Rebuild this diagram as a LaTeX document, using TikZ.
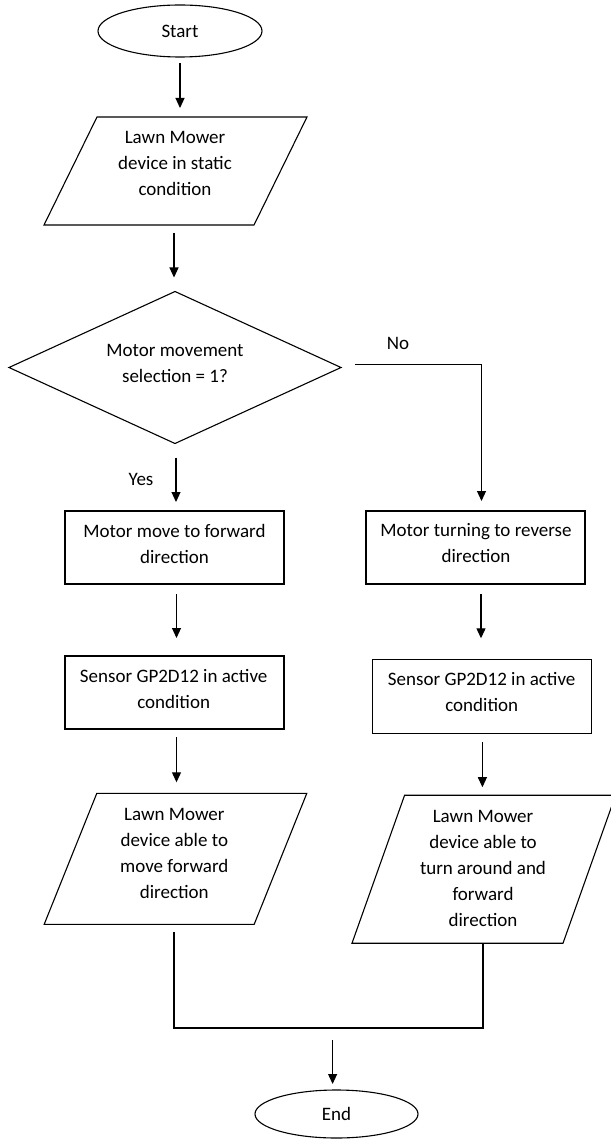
\documentclass[tikz,border=0pt]{standalone}
\usepackage{fontspec}
\setmainfont{Carlito}
\usetikzlibrary{shapes.geometric,arrows.meta,calc}
\begin{document}
\begin{tikzpicture}[x=1pt,y=-1pt,
 shp/.style={draw=black, line width=1.1pt, inner sep=0pt, outer sep=0pt},
 term/.style={shp, ellipse, minimum width=164pt, minimum height=52pt, font=\fontsize{19}{26}\selectfont},
 proc/.style={shp, rectangle, minimum width=219pt, minimum height=73pt},
 dec/.style={shp, diamond, minimum width=332pt, minimum height=152pt},
 iobox/.style={inner sep=0pt, outer sep=0pt, minimum width=210pt},
 txt/.style={font=\fontsize{19}{26}\selectfont, align=center, inner sep=0pt},
 lbl/.style={font=\fontsize{19}{26}\selectfont, inner sep=0pt},
 con/.style={draw=black, line width=1.1pt},
 arr/.style={con, -{Triangle[length=10pt,width=9pt]}}]
\useasboundingbox (0,0) rectangle (610,1139);

% terminals
\node[term] (start) at (180,31) {Start};
\node[term, minimum width=163pt, minimum height=48pt] (stop) at (336.5,1114) {End};

% input parallelogram 1
\node[iobox, minimum height=108pt] (p1) at (175.5,171) {};
\draw[con] ($(p1.center)+(-78.5,-54)$) -- ++(210,0) -- ++(-53,108) -- ++(-210,0) -- cycle;
\node[txt] at (175,163.3) {Lawn Mower\\device in static\\condition};

% decision
\node[dec] (dec) at (175,367.5) {};
\node[txt] at (175,363.5) {Motor movement\\selection = 1?};

% process boxes
\node[proc] (b1L) at (174.5,547.5) {};
\node[txt] at (174.5,543.5) {Motor move to forward\\direction};
\node[proc] (b1R) at (475.5,547.5) {};
\node[txt] at (476,543.5) {Motor turning to reverse\\direction};
\node[proc] (b2L) at (174.5,692.5) {};
\node[txt] at (173.7,688.5) {Sensor GP2D12 in active\\condition};
\node[proc, minimum height=74pt] (b2R) at (482.2,696.3) {};
\node[txt] at (481.7,691.8) {Sensor GP2D12 in active\\condition};

% output parallelograms
\node[iobox, minimum height=131pt] (p2L) at (175.5,858.8) {};
\draw[con] ($(p2L.center)+(-78.7,-65.5)$) -- ++(210,0) -- ++(-52.6,131) -- ++(-210,0) -- cycle;
\node[txt] at (174.3,853) {Lawn Mower\\device able to\\move forward\\direction};

\node[iobox, minimum width=211pt, minimum height=148pt] (p2R) at (483.8,869.2) {};
\draw[con] ($(p2R.center)+(-79.2,-74)$) -- ++(211,0) -- ++(-52.6,148) -- ++(-211,0) -- cycle;
\node[txt] at (483,868) {Lawn Mower\\device able to\\turn around and\\forward\\direction};

% labels
\node[lbl] (yes) at (141,479) {Yes};
\node[lbl] (no) at (398,343) {No};

% merge coordinates
\coordinate (mL) at (174,1028);
\coordinate (mR) at (483,1028);
\coordinate (mJ) at (332.6,1028);

% connectors
\draw[arr] ($(start.south)+(0,6)$) -- ($(start.south |- p1.north)+(0,-9)$);
\draw[arr] ($(p1.south)+(-1.5,8)$) -- ($(p1.south |- dec.north)+(-1.5,-14)$);
\draw[arr] ($(dec.south)+(1,14)$) -- ($(dec.south |- b1L.north)+(1,-9)$);
\draw[arr] ($(dec.east)+(14,-3)$) -| ($(b1R.north)+(6,-10)$);
\draw[arr] ($(b1L.south)+(2,10)$) -- ($(b1L.south |- b2L.north)+(2,-18)$);
\draw[arr] ($(b1R.south)+(5.5,10)$) -- ($(b1R.south |- b2R.north)+(5.5,-21)$);
\draw[arr] ($(b2L.south)+(2,8)$) -- ($(b2L.south |- p2L.north)+(2,-11)$);
\draw[arr] ($(b2R.south)+(0.2,9)$) -- ($(b2R.south |- p2R.north)+(0.2,-8)$);
\draw[con] ($(p2L.south -| mL)+(0,8)$) -- (mL) -- (mR) -- (p2R.south -| mR);
\draw[arr] ($(mJ)+(0,12)$) -- ($(mJ |- stop.north)+(0,-6)$);
\end{tikzpicture}
\end{document}
